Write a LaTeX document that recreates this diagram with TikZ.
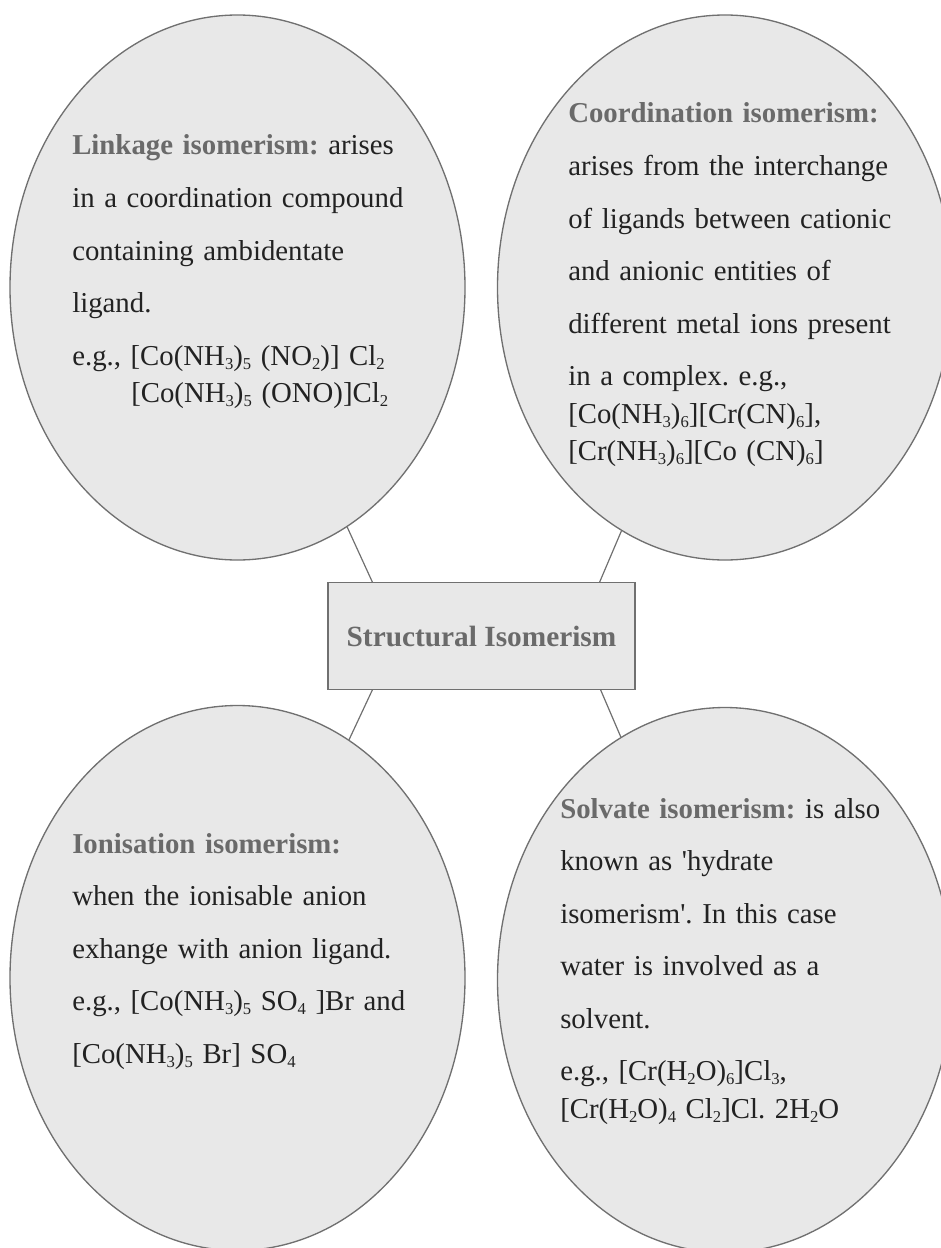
\documentclass[tikz,border=0pt]{standalone}
\usepackage{fontspec}
\setmainfont{Liberation Serif}
\usetikzlibrary{shapes.geometric,calc}

\definecolor{bubblefill}{RGB}{232,232,232}
\definecolor{bubbleline}{RGB}{112,112,112}
\definecolor{headgray}{RGB}{106,106,106}
\definecolor{bodytext}{RGB}{34,34,34}

% bold grey heading and small, slightly lowered chemical subscripts
\newcommand{\hd}[1]{\textbf{\color{headgray}#1}}
\newcommand{\sbs}[1]{\raisebox{-3.2pt}{\fontsize{12.5}{12.5}\selectfont #1}}

\begin{document}
\frenchspacing
\begin{tikzpicture}[x=0.75pt,y=-0.75pt,
  bubble/.style={ellipse, draw=bubbleline, line width=1pt, fill=bubblefill,
    minimum width=341.25pt, minimum height=408.75pt, inner sep=0pt},
  hub/.style={rectangle, draw=bubbleline, line width=1pt, fill=bubblefill,
    minimum width=230.25pt, minimum height=80pt, inner sep=0pt,
    text=headgray, font=\fontsize{22}{26}\selectfont\bfseries},
  link/.style={draw=bubbleline, line width=0.9pt},
  blurb/.style={anchor=base west, text width=330pt, align=left, inner sep=0pt,
    text=bodytext, font=\fontsize{21.6}{39.4}\selectfont\frenchspacing},
  formula/.style={blurb, font=\fontsize{21.6}{27.75}\selectfont\frenchspacing}]
\useasboundingbox (0,0) rectangle (941,1248);
\clip (0,0) rectangle (941,1248);

% four topic bubbles
\node[bubble] (tl) at (237.5,287.5) {};
\node[bubble] (tr) at (725,287.5) {};
\node[bubble] (bl) at (237.5,978) {};
\node[bubble] (br) at (725,980) {};

% central box
\node[hub] (hub) at (481.5,636) {Structural Isomerism};

% connector attachment points on the box
\coordinate (c1) at ($(hub.north west)+(45,0)$);
\coordinate (c2) at ($(hub.north east)+(-36,0)$);
\coordinate (c3) at ($(hub.south west)+(45,0)$);
\coordinate (c4) at ($(hub.south east)+(-35,0)$);

\draw[link] (c1) -- (tl);
\draw[link] (c2) -- (tr);
\draw[link] (c3) -- (bl);
\draw[link] (c4) -- (br);

% linkage isomerism
\node[blurb] (tltext) at (72,155) {\hd{Linkage isomerism:} arises\\
  in a coordination compound\\
  containing ambidentate\\
  ligand.\\
  e.g., [Co(NH\sbs3)\sbs5 (NO\sbs2)] Cl\sbs2};
\node[formula] (tlform) at (131,402) {[Co(NH\sbs3)\sbs5 (ONO)]Cl\sbs2};

% coordination isomerism
\node[blurb] (trtext) at (568,123) {\hd{Coordination isomerism:}\\
  arises from the interchange\\
  of ligands between cationic\\
  and anionic entities of\\
  different metal ions present\\
  in a complex. e.g.,};
\node[formula] (trform) at (568,423) {[Co(NH\sbs3)\sbs6][Cr(CN)\sbs6],\\
  {}[Cr(NH\sbs3)\sbs6][Co (CN)\sbs6]};

% ionisation isomerism
\node[blurb] (bltext) at (72,853) {\hd{Ionisation isomerism:}\\
  when the ionisable anion\\
  exhange with anion ligand.\\
  e.g., [Co(NH\sbs3)\sbs5 SO\sbs4 ]Br and\\
  {}[Co(NH\sbs3)\sbs5 Br] SO\sbs4};

% solvate isomerism
\node[blurb] (brtext) at (560,818) {\hd{Solvate isomerism:} is also\\
  known as \textquotesingle hydrate\\
  isomerism\textquotesingle. In this case\\
  water is involved as a\\
  solvent.\\
  e.g., [Cr(H\sbs2O)\sbs6]Cl\sbs3,};
\node[formula] (brform) at (560,1118) {[Cr(H\sbs2O)\sbs4 Cl\sbs2]Cl. 2H\sbs2O};
\end{tikzpicture}
\end{document}
